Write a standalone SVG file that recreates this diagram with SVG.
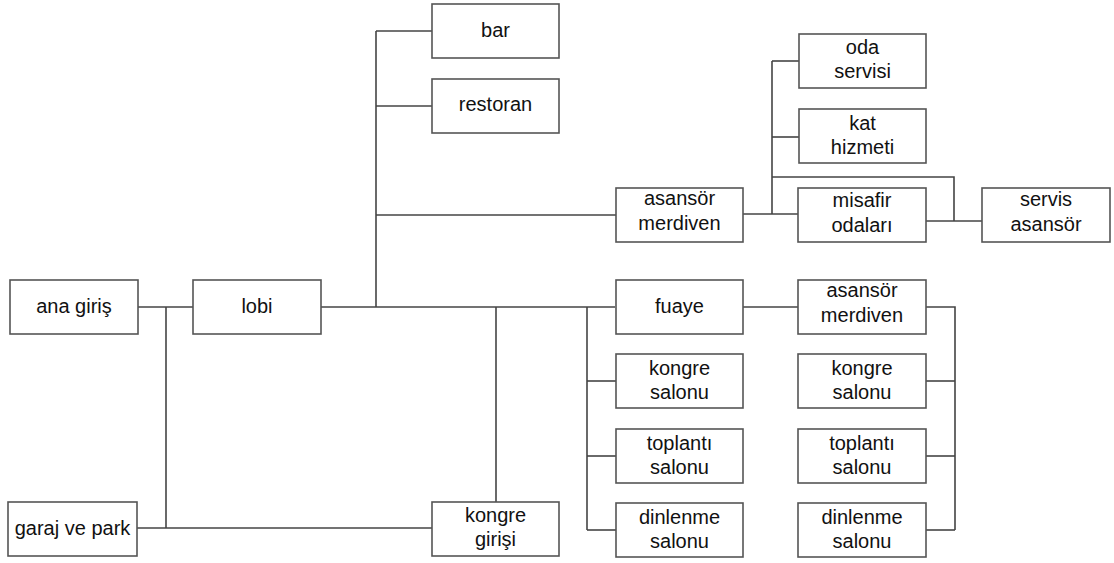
<svg xmlns="http://www.w3.org/2000/svg" width="1114" height="563" viewBox="0 0 1114 563">
<style>
.box{fill:#fff;stroke:#555;stroke-width:1.6}
.ln{fill:none;stroke:#444;stroke-width:1.6}
text{font-family:"Liberation Sans",Arial,sans-serif;font-size:20px;fill:#111;text-anchor:middle}
</style>
<rect width="1114" height="563" fill="#fff"/>
<g id="connectors">
<path class="ln" d="M138,307H193"/>
<path class="ln" d="M166,307V528"/>
<path class="ln" d="M137,528H432"/>
<path class="ln" d="M321,307H615"/>
<path class="ln" d="M376,31V307"/>
<path class="ln" d="M376,31H432"/>
<path class="ln" d="M376,106H432"/>
<path class="ln" d="M376,215H616"/>
<path class="ln" d="M496,307V502"/>
<path class="ln" d="M743,214H798"/>
<path class="ln" d="M772,61V214"/>
<path class="ln" d="M772,61H799"/>
<path class="ln" d="M772,137H799"/>
<path class="ln" d="M772,177H954V221"/>
<path class="ln" d="M926,221H982"/>
<path class="ln" d="M587,307V530"/>
<path class="ln" d="M587,381H616"/>
<path class="ln" d="M587,456H616"/>
<path class="ln" d="M587,530H616"/>
<path class="ln" d="M743,307H798"/>
<path class="ln" d="M926,307H955V530"/>
<path class="ln" d="M926,381H955"/>
<path class="ln" d="M926,456H955"/>
<path class="ln" d="M926,530H955"/>
</g>
<g id="ana-giris"><rect class="box" x="10" y="280" width="128" height="54"/><text x="74" y="313">ana giriş</text></g>
<g id="lobi"><rect class="box" x="193" y="280" width="128" height="54"/><text x="257" y="313">lobi</text></g>
<g id="garaj"><rect class="box" x="8" y="502" width="129" height="54"/><text x="72.5" y="535">garaj ve park</text></g>
<g id="kongre-girisi"><rect class="box" x="432" y="502" width="127" height="54"/><text x="495.5"><tspan x="495.5" y="522">kongre</tspan><tspan x="495.5" y="546">girişi</tspan></text></g>
<g id="bar"><rect class="box" x="432" y="4" width="127" height="54"/><text x="495.5" y="37">bar</text></g>
<g id="restoran"><rect class="box" x="432" y="79" width="127" height="54"/><text x="495.5" y="111">restoran</text></g>
<g id="asansor1"><rect class="box" x="616" y="188" width="127" height="54"/><text><tspan x="679.5" y="205">asansör</tspan><tspan x="679.5" y="230">merdiven</tspan></text></g>
<g id="oda"><rect class="box" x="799" y="34" width="127" height="54"/><text><tspan x="862.5" y="54">oda</tspan><tspan x="862.5" y="78">servisi</tspan></text></g>
<g id="kat"><rect class="box" x="799" y="109" width="127" height="54"/><text><tspan x="862.5" y="130">kat</tspan><tspan x="862.5" y="154">hizmeti</tspan></text></g>
<g id="misafir"><rect class="box" x="798" y="188" width="128" height="54"/><text><tspan x="862" y="207">misafir</tspan><tspan x="862" y="232">odaları</tspan></text></g>
<g id="servis"><rect class="box" x="982" y="188" width="128" height="54"/><text><tspan x="1046" y="206">servis</tspan><tspan x="1046" y="231">asansör</tspan></text></g>
<g id="fuaye"><rect class="box" x="616" y="280" width="127" height="54"/><text x="679.5" y="313">fuaye</text></g>
<g id="kongre-salonu1"><rect class="box" x="616" y="354" width="127" height="54"/><text><tspan x="679.5" y="375">kongre</tspan><tspan x="679.5" y="399">salonu</tspan></text></g>
<g id="toplanti1"><rect class="box" x="616" y="429" width="127" height="54"/><text><tspan x="679.5" y="450">toplantı</tspan><tspan x="679.5" y="474">salonu</tspan></text></g>
<g id="dinlenme1"><rect class="box" x="616" y="503" width="127" height="54"/><text><tspan x="679.5" y="524">dinlenme</tspan><tspan x="679.5" y="548">salonu</tspan></text></g>
<g id="asansor2"><rect class="box" x="798" y="280" width="128" height="54"/><text><tspan x="862" y="297">asansör</tspan><tspan x="862" y="322">merdiven</tspan></text></g>
<g id="kongre-salonu2"><rect class="box" x="798" y="354" width="128" height="54"/><text><tspan x="862" y="375">kongre</tspan><tspan x="862" y="399">salonu</tspan></text></g>
<g id="toplanti2"><rect class="box" x="798" y="429" width="128" height="54"/><text><tspan x="862" y="450">toplantı</tspan><tspan x="862" y="474">salonu</tspan></text></g>
<g id="dinlenme2"><rect class="box" x="798" y="503" width="128" height="54"/><text><tspan x="862" y="524">dinlenme</tspan><tspan x="862" y="548">salonu</tspan></text></g>
</svg>
